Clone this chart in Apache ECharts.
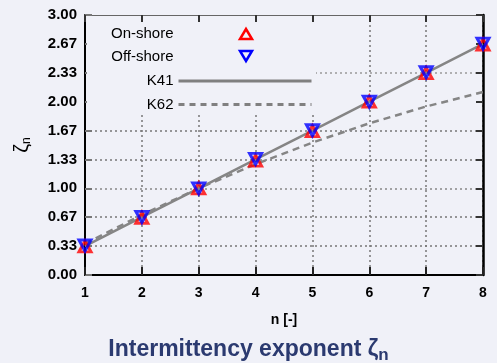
<!DOCTYPE html>
<html><head><meta charset="utf-8">
<script src="https://cdn.jsdelivr.net/npm/echarts@6/dist/echarts.min.js"></script>
<style>html,body{margin:0;padding:0;background:#f0f1f8;}#c{width:497px;height:363px;}</style>
</head><body><div id="c"></div>
<script>
var nValues = [1, 2, 3, 4, 5, 6, 7, 8];
var onShore = [0.33, 0.66, 1.00, 1.32, 1.66, 2.00, 2.33, 2.66];
var offShore = [0.34, 0.67, 1.00, 1.34, 1.67, 2.00, 2.34, 2.67];
var k41 = [0.333, 0.667, 1.000, 1.333, 1.667, 2.000, 2.333, 2.667];
var k62 = [0.361, 0.694, 1.000, 1.278, 1.528, 1.750, 1.944, 2.111];
var yTicks = ['0.00','0.33','0.67','1.00','1.33','1.67','2.00','2.33','2.67','3.00'];
var seriesNames = ['On-shore', 'Off-shore', 'K41', 'K62'];

function pairs(xs, ys){ return xs.map(function(x,i){ return [x, ys[i]]; }); }

var font = 'Liberation Sans, Arial, sans-serif';
var bg = '#f0f1f8';
var gridColors = ['rgba(0,0,0,0)','#777','#777','#888','#777','#777','rgba(0,0,0,0)','#999','rgba(0,0,0,0)','rgba(0,0,0,0)'];

var chart = echarts.init(document.getElementById('c'), null, {renderer:'canvas'});
chart.setOption({
  backgroundColor: bg,
  animation: false,
  textStyle: {fontFamily: font},
  title: {
    text: '{a|Intermittency exponent ζ}{b|n}',
    left: 'center', top: 331,
    textStyle: {
      rich: {
        a: {fontFamily: font, fontSize: 23, fontWeight: 'bold', color: '#2b3a70'},
        b: {fontFamily: font, fontSize: 17, fontWeight: 'bold', color: '#2b3a70', padding: [11,0,0,0]}
      }
    }
  },
  grid: {left: 85, top: 15, width: 398, height: 260},
  graphic: {elements: [
    {type: 'rect', z: 1, shape: {x: 87, y: 23, width: 229, height: 90}, style: {fill: bg}},
    {type: 'polygon', z: 10, shape: {points: [[240, 39], [252, 39], [246, 29]]}, style: {fill: 'none', stroke: '#ff0000', lineWidth: 2.5}},
    {type: 'polygon', z: 10, shape: {points: [[240, 51], [252, 51], [246, 61]]}, style: {fill: 'none', stroke: '#0000ff', lineWidth: 2.5}}
  ]},
  legend: {
    orient: 'vertical', align: 'right', right: 184, top: 26, padding: 0,
    itemWidth: 133, itemHeight: 12, itemGap: 8.7,
    textStyle: {fontFamily: font, fontSize: 15, color: '#000', lineHeight: 14},
    lineStyle: {width: 3, color: '#808080'},
    data: [
      {name: 'On-shore', icon: 'rect', itemStyle: {opacity: 0}},
      {name: 'Off-shore', icon: 'rect', itemStyle: {opacity: 0}},
      {name: 'K41', itemStyle: {opacity: 0}, lineStyle: {width: 3, color: '#808080', type: 'solid'}},
      {name: 'K62', itemStyle: {opacity: 0}, lineStyle: {width: 3, color: '#808080', type: [6, 5]}}
    ]
  },
  xAxis: [{
    type: 'value', min: 1, max: 8, interval: 1, position: 'bottom',
    name: 'n [-]', nameLocation: 'middle', nameGap: 38,
    nameTextStyle: {fontFamily: font, fontSize: 14, fontWeight: 'bold', color: '#000'},
    axisLine: {show: true, onZero: false, lineStyle: {color: '#000', width: 2}},
    axisTick: {show: true, inside: true, length: 8, lineStyle: {color: '#222', width: 2}},
    axisLabel: {fontFamily: font, fontSize: 14, fontWeight: 'bold', color: '#000', margin: 11},
    splitLine: {show: true, lineStyle: {color: '#777', width: 1.5, type: [2, 3]}}
  }, {
    type: 'value', min: 1, max: 8, interval: 1, position: 'top',
    axisLine: {show: true, onZero: false, lineStyle: {color: '#666', width: 1}},
    axisTick: {show: true, inside: true, length: 7, lineStyle: {color: '#333', width: 2}},
    axisLabel: {show: false}, splitLine: {show: false}
  }],
  yAxis: [{
    type: 'value', min: 0, max: 3, interval: 1/3, position: 'left',
    name: '{a|ζ}{b|n}', nameLocation: 'middle', nameGap: 52, nameRotate: 90,
    nameTextStyle: {rich: {
      a: {fontFamily: font, fontSize: 20, color: '#000'},
      b: {fontFamily: font, fontSize: 12, color: '#000', padding: [9,0,0,0]}
    }},
    axisLine: {show: true, onZero: false, lineStyle: {color: '#000', width: 2}},
    axisTick: {show: true, inside: true, length: 7, lineStyle: {color: '#777', width: 2}},
    axisLabel: {fontFamily: font, fontSize: 15, fontWeight: 'bold', color: '#000', margin: 8,
      formatter: function(v){ var i = Math.round(v*3); return yTicks[i]; }},
    splitLine: {show: true, lineStyle: {color: gridColors, width: 1.5, type: [2, 3]}}
  }, {
    type: 'value', min: 0, max: 3, interval: 1/3, position: 'right',
    axisLine: {show: true, onZero: false, lineStyle: {color: '#000', width: 2.5}},
    axisTick: {show: true, inside: true, length: 7, lineStyle: {color: '#333', width: 2}},
    axisLabel: {show: false}, splitLine: {show: false}
  }],
  series: [
    {name: 'K41', type: 'line', data: pairs(nValues, k41), symbol: 'none', z: 3,
     lineStyle: {color: '#858585', width: 2.5}, itemStyle: {color: '#858585'}},
    {name: 'K62', type: 'line', data: pairs(nValues, k62), symbol: 'none', z: 3,
     lineStyle: {color: '#858585', width: 2.5, type: [7, 5]}, itemStyle: {color: '#858585'}},
    {name: 'On-shore', type: 'scatter', data: pairs(nValues, onShore), symbol: 'triangle', symbolSize: [12, 11], z: 4,
     itemStyle: {color: 'rgba(0,0,0,0)', borderColor: '#ff0000', borderWidth: 3}},
    {name: 'Off-shore', type: 'scatter', data: pairs(nValues, offShore), symbol: 'triangle', symbolRotate: 180, symbolSize: [12, 11], z: 5,
     itemStyle: {color: 'rgba(0,0,0,0)', borderColor: '#0000ff', borderWidth: 3}}
  ]
});
</script></body></html>
